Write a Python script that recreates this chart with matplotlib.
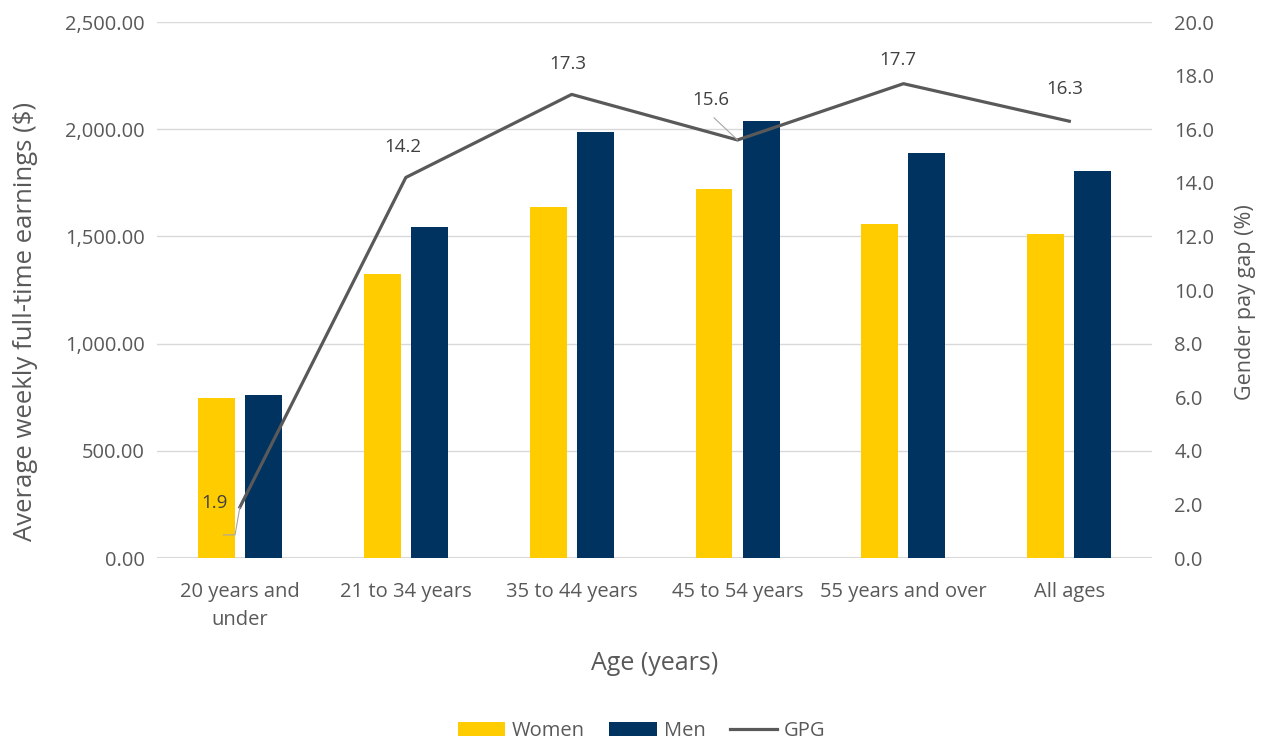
import matplotlib.pyplot as plt
import numpy as np

plt.rcParams['font.family'] = ['Open Sans', 'DejaVu Sans']

categories = ['20 years and\nunder', '21 to 34 years', '35 to 44 years',
              '45 to 54 years', '55 years and over', 'All ages']
women = [745, 1325, 1638, 1720, 1558, 1512]
men = [760, 1543, 1986, 2037, 1890, 1806]
gpg = [1.9, 14.2, 17.3, 15.6, 17.7, 16.3]

grey = '#595959'
x = np.arange(len(categories))

fig = plt.figure(figsize=(12.63, 7.40), dpi=100)
ax = fig.add_axes([0.1243, 0.2459, 0.788, 0.7243])
ax2 = ax.twinx()

w = 0.223
bw = ax.bar(x - 0.142, women, w, color='#FFCC00', label='Women', zorder=2)
bm = ax.bar(x + 0.142, men, w, color='#003360', label='Men', zorder=2)
ln, = ax2.plot(x, gpg, color=grey, lw=2.3, label='GPG', zorder=3)

ax.set_xlim(-0.5, len(categories) - 0.5)
ax.set_ylim(0, 2500)
ax.set_yticks(np.arange(0, 2501, 500))
ax.set_yticklabels([f'{v:,.2f}' for v in np.arange(0, 2501, 500)])
ax2.set_ylim(0, 20)
ax2.set_yticks(np.arange(0, 20.1, 2))
ax2.set_yticklabels([f'{v:.1f}' for v in np.arange(0, 20.1, 2)])

ax.grid(axis='y', color='#d9d9d9', lw=1, zorder=0)
ax.set_axisbelow(True)
for a in (ax, ax2):
    for s in ('top', 'right', 'left', 'bottom'):
        a.spines[s].set_visible(False)
ax.axhline(0, color='#d9d9d9', lw=1.5, zorder=1)

ax.tick_params(axis='y', length=0, pad=9, labelsize=14.5, labelcolor=grey)
ax2.tick_params(axis='y', length=0, pad=16, labelsize=14.5, labelcolor=grey)
ax.set_xticks(x)
ax.set_xticklabels(categories, fontsize=14.5, color=grey, linespacing=1.55)
ax.tick_params(axis='x', length=0, pad=17)

ax.set_ylabel('Average weekly full-time earnings ($)', fontsize=18.5, color=grey, labelpad=19)
ax.yaxis.label.set_y(0.442)
ax2.set_ylabel('Gender pay gap (%)', fontsize=15.5, color=grey, labelpad=15)
ax2.yaxis.label.set_y(0.478)
ax.set_xlabel('Age (years)', fontsize=18, color=grey, labelpad=15)

# data labels for GPG
offsets = [(-18, 3), (-2, 22), (-3, 22), (-19, 29), (-4, 17), (-3, 23)]
for i, v in enumerate(gpg):
    dx, dy = offsets[i]
    ax2.annotate(f'{v:.1f}', (x[i], v), xytext=(dx, dy), textcoords='offset points',
                 ha='center', va='center', fontsize=13.5, color='#404040', zorder=4)
# leader lines for the two displaced labels
ax2.annotate('', (x[0], gpg[0]), xytext=(-12, -20), textcoords='offset points',
             arrowprops=dict(arrowstyle='-', color='#a6a6a6', lw=0.8,
                             connectionstyle='angle,angleA=0,angleB=80,rad=0',
                             shrinkA=0, shrinkB=0))
ax2.annotate('', (x[3], gpg[3]), xytext=(-17, 16), textcoords='offset points',
             arrowprops=dict(arrowstyle='-', color='#a6a6a6', lw=0.8,
                             shrinkA=0, shrinkB=0))

fig.legend([bw, bm, ln], ['Women', 'Men', 'GPG'], loc='center', ncol=3,
           bbox_to_anchor=(0.508, 0.012), frameon=False, fontsize=14.5,
           labelcolor=grey, handlelength=2.35, handleheight=0.75,
           columnspacing=1.2, handletextpad=0.35)

fig.savefig('out.png', dpi=100)
